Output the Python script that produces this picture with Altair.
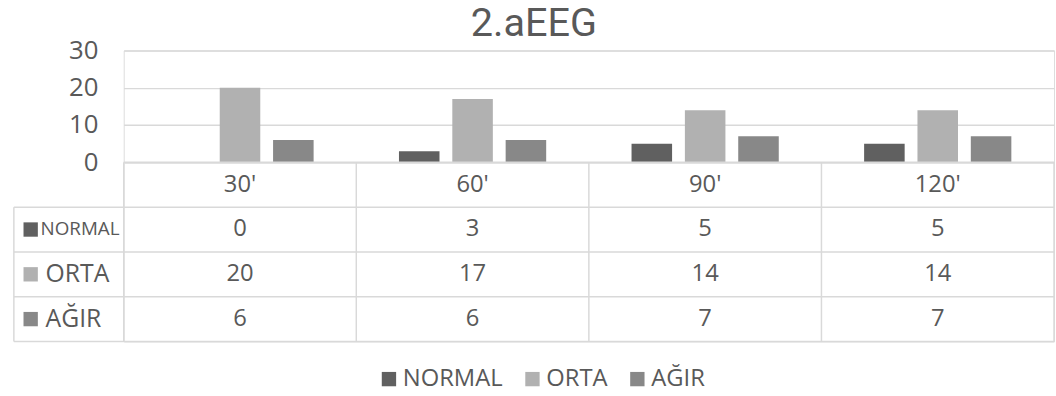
import altair as alt
import pandas as pd

# Values shown in the chart and its data table
categories = ["30'", "60'", "90'", "120'"]
series = ["NORMAL", "ORTA", "AĞIR"]
normal = [0, 3, 5, 5]
orta = [20, 17, 14, 14]
agir = [6, 6, 7, 7]
colors = ["#606060", "#b1b1b1", "#888888"]

FONT = "Open Sans"
TEXT = "#595959"
LINE = "#d9d9d9"
W = 940          # plot width (4 columns of 235 px)
H_PLOT = 113     # bar area height
H_TAB = 181      # data table height (header + 3 rows)
LABEL_COL = 111  # width of the row-label column left of the table

records = []
for name, vals in zip(series, [normal, orta, agir]):
    for cat, v in zip(categories, vals):
        records.append({"series": name, "cat": cat, "value": v})
df = pd.DataFrame(records)

x_scale = alt.Scale(domain=categories, paddingInner=0, paddingOuter=0)
color_enc = alt.Color(
    "series:N",
    sort=series,
    scale=alt.Scale(domain=series, range=colors),
    legend=alt.Legend(
        orient="none", legendX=256, legendY=320, direction="horizontal",
        title=None, symbolType="square", symbolSize=210, symbolStrokeWidth=0,
        symbolOpacity=1, labelFontSize=24, labelFont=FONT, labelColor=TEXT,
        labelOffset=2, columnPadding=18,
    ),
)

# --- clustered bars ---
bars = alt.Chart(df).mark_bar().encode(
    x=alt.X("cat:N", sort=categories, scale=x_scale, axis=None),
    xOffset=alt.XOffset("series:N", sort=series,
                        scale=alt.Scale(paddingInner=0.24, paddingOuter=0.8)),
    y=alt.Y("value:Q", scale=alt.Scale(domain=[0, 30]),
            axis=alt.Axis(values=[0, 10, 20, 30], title=None, domain=False,
                          ticks=False, labelPadding=26, labelFontSize=26,
                          labelFont=FONT, labelColor=TEXT, gridColor=LINE,
                          gridWidth=1.5)),
    color=color_enc,
).properties(width=W, height=H_PLOT)

# --- data table under the bars ---
row_domain = [""] + series
row_scale = alt.Scale(domain=row_domain, paddingInner=0, paddingOuter=0)

header = pd.DataFrame({"row": "", "cat": categories, "label": categories})
body = pd.DataFrame({"row": df["series"], "cat": df["cat"],
                     "label": df["value"].astype(str)})
cells = pd.concat([header, body], ignore_index=True)

y_row = alt.Y("row:N", sort=row_domain, scale=row_scale, axis=None)
x_cat = alt.X("cat:N", sort=categories, scale=x_scale, axis=None)

cell_text = alt.Chart(cells).mark_text(
    fontSize=24, font=FONT, color=TEXT, baseline="middle"
).encode(x=x_cat, y=y_row, text="label:N")

row_df = pd.DataFrame({"row": series, "series": series})
cat_df = pd.DataFrame({"cat": categories})

# horizontal borders: top of every series row, across label column and table
h_lines = alt.Chart(row_df).mark_rule(color=LINE, strokeWidth=1.5).encode(
    y=alt.Y("row:N", sort=row_domain, scale=row_scale, axis=None, bandPosition=0),
    x=alt.value(-LABEL_COL), x2=alt.value(W),
)
h_bottom = alt.Chart(pd.DataFrame({"row": [series[-1]]})).mark_rule(
    color=LINE, strokeWidth=1.5).encode(
    y=alt.Y("row:N", sort=row_domain, scale=row_scale, axis=None, bandPosition=1),
    x=alt.value(-LABEL_COL), x2=alt.value(W),
)
h_top = alt.Chart(pd.DataFrame({"row": [""]})).mark_rule(
    color=LINE, strokeWidth=1.5).encode(
    y=alt.Y("row:N", sort=row_domain, scale=row_scale, axis=None, bandPosition=0),
    x=alt.value(0), x2=alt.value(W),
)
# vertical borders between category columns
v_lines = alt.Chart(cat_df).mark_rule(color=LINE, strokeWidth=1.5).encode(
    x=alt.X("cat:N", sort=categories, scale=x_scale, axis=None, bandPosition=0),
    y=alt.value(0), y2=alt.value(H_TAB),
)
v_right = alt.Chart(pd.DataFrame({"cat": [categories[-1]]})).mark_rule(
    color=LINE, strokeWidth=1.5).encode(
    x=alt.X("cat:N", sort=categories, scale=x_scale, axis=None, bandPosition=1),
    y=alt.value(0), y2=alt.value(H_TAB),
)
v_left = alt.Chart(pd.DataFrame({"row": [series[0]]})).mark_rule(
    color=LINE, strokeWidth=1.5).encode(
    x=alt.value(-LABEL_COL),
    y=alt.Y("row:N", sort=row_domain, scale=row_scale, axis=None, bandPosition=0),
    y2=alt.value(H_TAB),
)

# row labels with their colour keys
keys = alt.Chart(row_df).mark_point(
    shape="square", filled=True, size=210, opacity=1
).encode(x=alt.value(-94), y=y_row, color=color_enc)
label_normal = alt.Chart(pd.DataFrame({"row": [series[0]]})).mark_text(
    fontSize=19, font=FONT, color=TEXT, align="left", baseline="middle"
).encode(x=alt.value(-84), y=y_row, text="row:N")
label_rest = alt.Chart(pd.DataFrame({"row": series[1:]})).mark_text(
    fontSize=25, font=FONT, color=TEXT, align="left", baseline="middle"
).encode(x=alt.value(-79), y=y_row, text="row:N")

table = alt.layer(
    h_lines, h_bottom, h_top, v_lines, v_right, v_left,
    cell_text, keys, label_normal, label_rest,
).properties(width=W, height=H_TAB)

chart = alt.vconcat(bars, table, spacing=0, bounds="flush").properties(
    title=alt.Title("2.aEEG", fontSize=40, font="Roboto", color=TEXT,
                    fontWeight="normal", anchor="middle", offset=-7),
    padding={"left": 12, "top": 2, "right": 0, "bottom": 0},
).configure_view(stroke=None).configure(font=FONT)

chart.save("out.html", embed_options={"renderer": "svg", "actions": False})
